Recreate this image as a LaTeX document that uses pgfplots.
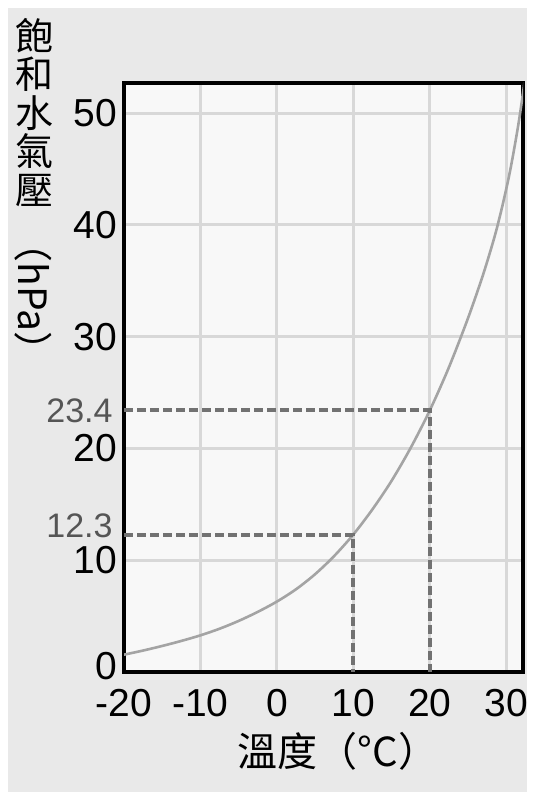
\documentclass[border=0pt]{standalone}
\usepackage{pgfplots}
\pgfplotsset{compat=1.18}
\usepackage{fontspec}
\setmainfont{Liberation Sans}
\newfontfamily\cjk{Noto Sans CJK TC}

\definecolor{pagebg}{HTML}{E9E9E9}
\definecolor{plotbg}{HTML}{F8F8F8}
\definecolor{gridgray}{HTML}{D8D8D8}
\definecolor{curvegray}{HTML}{A4A4A4}
\definecolor{dashgray}{HTML}{727272}
\definecolor{notegray}{HTML}{555555}

\begin{document}
\begin{tikzpicture}
  % page background
  \fill[white] (0pt,0pt) rectangle (263.5pt,396pt);
  \fill[pagebg] (4pt,0pt) rectangle (263.5pt,392pt);

  \begin{axis}[
    at={(62pt,60pt)}, anchor=south west,
    scale only axis,
    width=199.5pt, height=294.5pt,
    xmin=-20, xmax=32.2,
    ymin=0, ymax=52.7,
    clip mode=individual,
    xtick={-20,-10,0,10,20,30},
    xticklabels={-20,-10,0,10,20,30},
    ytick={0,10,20,30,40,50},
    yticklabels={\raisebox{3pt}[\height][\depth]{0},10,20,30,40,50},
    major tick length=0pt,
    grid=major,
    major grid style={color=gridgray, line width=1.5pt},
    axis line style={line width=2pt, black},
    axis background/.style={fill=plotbg},
    ticklabel style={font=\fontsize{19.5pt}{20pt}\selectfont, text=black},
    yticklabel style={inner ysep=0pt},
    xticklabel style={inner ysep=0pt, yshift=-8.5pt},
  ]
    % saturation vapour pressure curve
    \addplot[curvegray, line width=1.3pt, smooth] coordinates {
      (-20,1.55) (-17.5,1.92) (-15,2.33) (-12.5,2.78) (-10,3.28) (-7.5,3.87)
      (-5,4.57) (-2.5,5.38) (0,6.3) (2.5,7.4) (5,8.75) (7.5,10.38) (10,12.3)
      (12.5,14.55) (15,17.1) (17.5,20.05) (20,23.4) (22.5,27.25) (25,31.65)
      (27,35.6) (28.5,39.0) (29.5,41.7) (30.5,44.8) (31.5,48.6) (32.2,51.8)
      (32.8,55.0)
    };
    % read-off guides at 10 and 20 degrees
    \addplot[dashgray, line width=2pt, dash pattern=on 4.5pt off 2pt]
      coordinates {(-20,23.4) (20,23.4) (20,0)};
    \addplot[dashgray, line width=2pt, dash pattern=on 4.5pt off 2pt]
      coordinates {(-20,12.3) (10,12.3) (10,0)};

    \node[anchor=east, inner sep=0pt, xshift=-5.5pt, text=notegray,
          font=\fontsize{17pt}{17pt}\selectfont] at (axis cs:-20,23.4) {23.4};
    \node[anchor=east, inner sep=0pt, xshift=-5.5pt, yshift=4.5pt, text=notegray,
          font=\fontsize{17pt}{17pt}\selectfont] at (axis cs:-20,12.3) {12.3};
  \end{axis}

  % axis titles
  \node[anchor=north, inner sep=0pt, align=center,
        font=\cjk\fontsize{19pt}{19.2pt}\selectfont]
    at (17.5pt,387pt) {飽\\和\\水\\氣\\壓};
  \node[rotate=-90, inner sep=0pt, font=\cjk\fontsize{19.5pt}{19.5pt}\selectfont]
    at (16.5pt,247.5pt) {（hPa）};
  \node[inner sep=0pt, font=\cjk\fontsize{20pt}{20pt}\selectfont]
    at (169pt,20.5pt) {溫度（°C）};
\end{tikzpicture}
\end{document}
